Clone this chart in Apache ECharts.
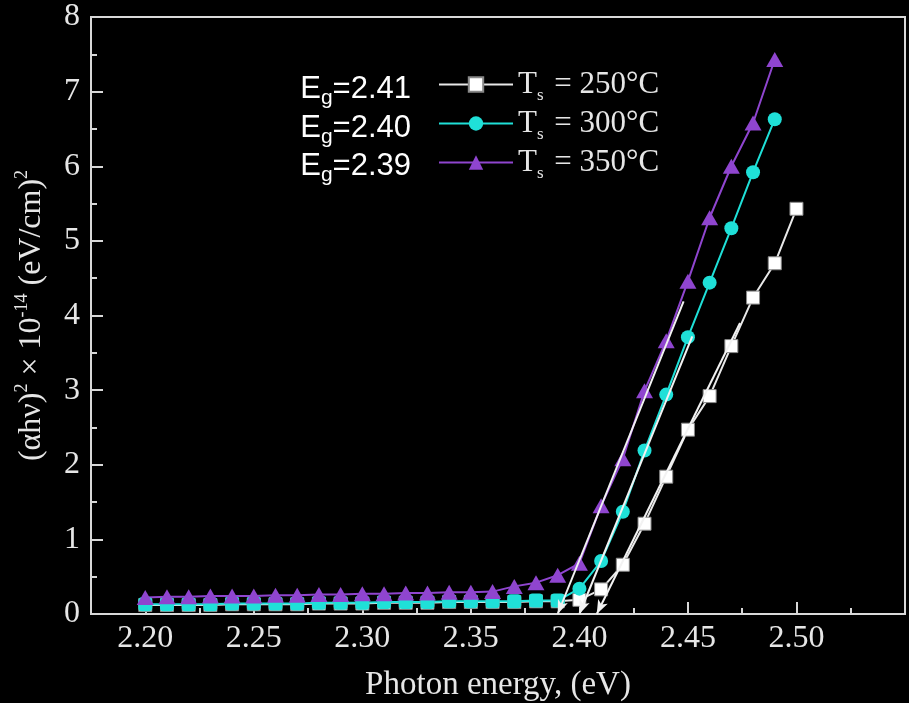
<!DOCTYPE html>
<html lang="en">
<head>
    <meta charset="UTF-8">
    <title>ECharts</title>
    <script src="https://cdn.jsdelivr.net/npm/echarts@6/dist/echarts.min.js"></script>
    <style>
        html, body { margin: 0; padding: 0; background: #000; }
    </style>
</head>
<body>
<div id="main" style="width: 909px;height:703px;"></div>
<script type="text/javascript">
// photon energy (eV)
var energy = [2.20, 2.21, 2.22, 2.23, 2.24, 2.25, 2.26, 2.27, 2.28, 2.29,
              2.30, 2.31, 2.32, 2.33, 2.34, 2.35, 2.36, 2.37, 2.38, 2.39,
              2.40, 2.41, 2.42, 2.43, 2.44, 2.45, 2.46, 2.47, 2.48, 2.49, 2.50];
// (ahv)^2 x 1e-14
var ts250 = [0.12, 0.12, 0.12, 0.12, 0.13, 0.13, 0.13, 0.13, 0.14, 0.14,
             0.14, 0.15, 0.15, 0.15, 0.16, 0.16, 0.16, 0.16, 0.17, 0.17,
             0.19, 0.33, 0.66, 1.21, 1.84, 2.47, 2.92, 3.59, 4.24, 4.70, 5.43];
var ts300 = [0.13, 0.13, 0.13, 0.13, 0.14, 0.14, 0.14, 0.14, 0.15, 0.15,
             0.15, 0.16, 0.16, 0.16, 0.17, 0.17, 0.17, 0.17, 0.18, 0.18,
             0.34, 0.71, 1.37, 2.19, 2.94, 3.71, 4.44, 5.17, 5.92, 6.63];
var ts350 = [0.22, 0.23, 0.23, 0.24, 0.24, 0.24, 0.25, 0.25, 0.26, 0.26,
             0.27, 0.27, 0.28, 0.28, 0.29, 0.29, 0.30, 0.37, 0.42, 0.52,
             0.68, 1.45, 2.08, 2.99, 3.66, 4.46, 5.31, 6.00, 6.58, 7.43];
// tangent lines (start, arrow tip on the axis)
var tangent250 = [[2.474, 3.90], [2.408, 0]];
var tangent300 = [[2.452, 3.72], [2.400, 0]];
var tangent350 = [[2.448, 4.19], [2.390, 0]];

var temps = ['250', '300', '350'];
var bandGaps = ['2.41', '2.40', '2.39'];
var majorTicks = [2.20, 2.25, 2.30, 2.35, 2.40, 2.45, 2.50];

function pairs(vals) {
    var out = [];
    for (var i = 0; i < vals.length; i++) {
        out.push([energy[i], vals[i]]);
    }
    return out;
}

var serif = 'Liberation Serif';
var sans = 'Liberation Sans';
var fg = '#e6e6e6';
var axisCol = '#d8d8d8';

function tangent(t) {
    return {
        silent: true,
        symbol: ['none', 'arrow'],
        symbolSize: [8, 14],
        label: { show: false },
        lineStyle: { color: '#f2f2f2', width: 2, type: 'solid' },
        data: [[{ coord: t[0] }, { coord: t[1] }]]
    };
}

var myChart = echarts.init(document.getElementById('main'));
myChart.setOption({
    backgroundColor: '#000',
    animation: false,
    grid: {
        left: 91, right: 4, top: 17, bottom: 89,
        outerBoundsMode: 'none',
        containLabel: false,
        show: true, borderColor: axisCol, borderWidth: 2
    },
    legend: {
        orient: 'vertical',
        left: 433,
        top: 64,
        itemWidth: 74,
        itemHeight: 18,
        itemGap: 4,
        selectedMode: false,
        formatter: function (name) {
            return '{t|T}{s|s}{t| = ' + name + '°C}';
        },
        textStyle: {
            color: fg,
            rich: {
                t: { fontFamily: serif, fontSize: 31, color: fg },
                s: { fontFamily: serif, fontSize: 17, color: fg, padding: [22, 3, 0, 0] }
            }
        }
    },
    graphic: bandGaps.map(function (eg, i) {
        return {
            type: 'text',
            right: 909 - 411,
            top: 74 + i * 38.5,
            style: {
                text: '{e|E}{g|g}{e|=' + eg + '}',
                fill: '#fff',
                rich: {
                    e: { fontFamily: sans, fontSize: 31, fill: '#fff' },
                    g: { fontFamily: sans, fontSize: 21, fill: '#fff', padding: [18, 0, 0, 0] }
                }
            }
        };
    }),
    xAxis: [{
        // data axis, minor ticks every 0.025
        type: 'value',
        min: 2.175,
        max: 2.55,
        interval: 0.025,
        name: 'Photon energy, (eV)',
        nameLocation: 'middle',
        nameGap: 55,
        nameTextStyle: { fontFamily: serif, fontSize: 33, color: fg },
        axisLine: { show: true, onZero: false, lineStyle: { color: axisCol, width: 2 } },
        axisTick: { inside: true, length: 6, lineStyle: { color: axisCol, width: 2 } },
        axisLabel: {
            customValues: majorTicks,
            margin: 9,
            fontFamily: serif, fontSize: 32, color: fg,
            formatter: function (v) { return v.toFixed(2); }
        },
        splitLine: { show: false }
    }, {
        // major ticks
        type: 'value',
        min: 2.175,
        max: 2.55,
        position: 'bottom',
        axisLine: { show: true, onZero: false, lineStyle: { color: axisCol, width: 2 } },
        axisTick: { show: true, inside: true, length: 12, customValues: majorTicks, lineStyle: { color: axisCol, width: 2 } },
        axisLabel: { show: false },
        splitLine: { show: false }
    }],
    yAxis: {
        type: 'value',
        min: 0,
        max: 8,
        interval: 1,
        name: '{n|(αhν)}{p|2}{n| × 10}{p|-14}{n| (eV/cm)}{p|2}',
        nameLocation: 'middle',
        nameGap: 40,
        nameTextStyle: {
            color: fg,
            rich: {
                n: { fontFamily: serif, fontSize: 32, color: fg },
                p: { fontFamily: serif, fontSize: 18, color: fg, padding: [0, 0, 20, 0] }
            }
        },
        axisLine: { show: true, lineStyle: { color: axisCol, width: 2 } },
        axisTick: { inside: true, length: 12, lineStyle: { color: axisCol, width: 2 } },
        minorTick: { show: true, splitNumber: 2, length: 6, lineStyle: { color: axisCol, width: 2 } },
        axisLabel: { margin: 11, fontFamily: serif, fontSize: 32, color: fg },
        splitLine: { show: false }
    },
    series: [{
        name: temps[0],
        type: 'line',
        data: pairs(ts250),
        symbol: 'rect',
        symbolSize: 13,
        color: '#ffffff',
        itemStyle: { color: '#ffffff', borderColor: '#888', borderWidth: 1 },
        lineStyle: { color: '#e8e8e8', width: 2 },
        markLine: tangent(tangent250)
    }, {
        name: temps[1],
        type: 'line',
        data: pairs(ts300),
        symbol: function (v) { return v[0] < 2.395 ? 'roundRect' : 'circle'; },
        symbolSize: 14,
        color: '#1fe0d8',
        itemStyle: { color: '#1fe0d8' },
        lineStyle: { color: '#1fe0d8', width: 2 },
        markLine: tangent(tangent300)
    }, {
        name: temps[2],
        type: 'line',
        data: pairs(ts350),
        symbol: 'triangle',
        symbolSize: [17, 15],
        color: '#8f45cf',
        itemStyle: { color: '#8f45cf' },
        lineStyle: { color: '#8f45cf', width: 2 },
        markLine: tangent(tangent350)
    }]
});
</script>
</body>
</html>
